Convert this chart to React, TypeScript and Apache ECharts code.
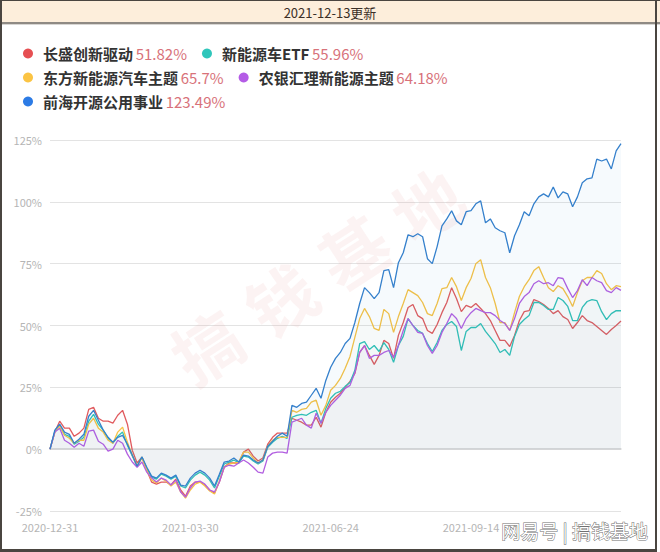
import React, { useEffect, useRef } from "react";
import * as echarts from "echarts";

const seriesNames = ["长盛创新驱动", "新能源车ETF", "东方新能源汽车主题", "农银汇理新能源主题", "前海开源公用事业"];
const seriesColors = ["#e05a5e", "#2cc2b8", "#f6c244", "#b25fe0", "#3580cc"];
const legendDots = ["#e64f52", "#2fc6bb", "#fbc444", "#b45ce6", "#2c7be5"];
const finalReturns = ["51.82%", "55.96%", "65.7%", "64.18%", "123.49%"];
const updateLabel = "2021-12-13更新";
const xTickLabels = ["2020-12-31", "2021-03-30", "2021-06-24", "2021-09-14", ""];
const tickEvery = 29;
const yTicks = { min: -25, max: 125, interval: 25 };

const changsheng = [0, 6.9, 11.3, 8.5, 8.5, 5.2, 6.5, 8.5, 16.1, 16.9, 12.5, 11.3, 11.3, 10.5, 13.7, 15.7, 10.1, -0.4, -5.6, -3.2, -8.5, -13.3, -14.1, -13.3, -13.3, -14.5, -12.1, -16.5, -19.0, -14.9, -13.3, -13.3, -14.5, -16.5, -17.7, -13.3, -7.3, -5.6, -5.6, -5.6, -1.2, 0, -2.8, -4.8, -3.6, 2.0, 4.8, 6.5, 6.5, 6.5, 12.5, 11.7, 10.9, 9.7, 9.7, 12.9, 8.9, 14.9, 19.0, 21.0, 22.6, 25.0, 27.4, 30.6, 39.1, 41.9, 37.9, 34.3, 37.9, 44.0, 42.7, 36.7, 46.0, 51.2, 57.3, 58.5, 54.0, 52.8, 48.0, 46.8, 50.4, 55.2, 59.3, 65.3, 60.9, 55.6, 58.1, 57.3, 58.9, 56.9, 54.8, 52.0, 48.0, 44.0, 44.0, 41.5, 46.0, 52.0, 55.6, 56.0, 60.5, 59.7, 58.5, 56.9, 54.8, 56.0, 53.6, 52.4, 48.8, 51.2, 54.0, 52.0, 51.2, 49.6, 48.0, 46.4, 48.4, 50.0, 51.82];
const nevEtf = [0, 7.3, 9.7, 6.0, 5.2, 2.0, 3.2, 4.8, 11.3, 14.1, 10.1, 7.7, 4.4, 2.4, 5.2, 6.9, 1.6, -2.8, -6.9, -3.2, -7.7, -11.3, -12.1, -10.1, -10.9, -12.1, -10.9, -14.9, -15.7, -12.5, -10.5, -9.3, -10.5, -12.5, -15.7, -10.9, -6.0, -5.2, -4.4, -5.6, -2.8, -3.2, -4.8, -6.0, -4.8, 0.8, 2.8, 4.4, 5.2, 4.4, 12.9, 13.7, 14.1, 13.7, 14.9, 15.7, 10.5, 16.5, 20.6, 22.6, 23.4, 25.4, 27.0, 31.9, 42.7, 43.5, 40.3, 41.9, 39.5, 43.1, 40.3, 35.1, 41.9, 45.6, 52.8, 50.0, 48.0, 46.8, 42.7, 39.5, 43.1, 48.0, 50.4, 51.6, 49.6, 39.9, 47.6, 49.2, 49.2, 50.8, 47.6, 45.2, 42.7, 39.1, 40.3, 37.9, 45.6, 50.4, 52.4, 54.0, 59.3, 59.3, 58.1, 56.5, 56.5, 61.3, 60.1, 57.7, 52.0, 52.0, 57.3, 59.7, 60.5, 60.1, 55.6, 52.4, 54.8, 56.0, 55.96];
const dongfang = [0, 6.9, 9.3, 5.6, 4.4, 2.4, 3.6, 3.6, 10.1, 12.5, 8.5, 6.9, 3.6, 2.4, 6.9, 8.9, 2.8, -2.4, -6.9, -3.6, -8.5, -12.5, -13.7, -11.7, -12.9, -14.9, -13.3, -17.3, -19.8, -16.5, -14.1, -13.3, -14.9, -16.9, -18.1, -12.9, -7.3, -6.0, -5.6, -5.2, -1.2, -1.2, -3.6, -5.6, -4.4, 1.2, 3.6, 4.8, 4.8, 4.8, 15.7, 14.9, 16.1, 16.5, 19.0, 19.8, 13.7, 17.7, 23.8, 25.8, 28.6, 32.7, 37.5, 45.2, 52.8, 56.9, 53.6, 48.8, 48.0, 56.5, 54.8, 47.2, 53.6, 58.9, 64.5, 63.3, 62.1, 59.3, 54.8, 54.0, 58.9, 64.9, 65.3, 69.4, 65.7, 60.1, 65.3, 69.0, 75.0, 76.6, 69.4, 65.3, 58.9, 51.2, 51.2, 48.0, 55.2, 61.7, 65.7, 68.5, 72.2, 73.8, 69.4, 65.3, 63.7, 66.1, 64.9, 61.7, 57.7, 63.3, 68.1, 69.4, 69.4, 72.2, 71.0, 66.9, 64.5, 66.1, 65.7];
const nongyin = [0, 6.9, 8.5, 3.6, 2.4, 0.8, 2.4, 1.2, 7.3, 7.7, 3.2, 2.0, -0.8, 0, 3.6, 2.4, -2.0, -5.2, -7.3, -5.2, -9.3, -11.7, -13.3, -11.7, -12.5, -14.5, -12.5, -17.3, -19.4, -15.7, -13.3, -12.9, -14.1, -16.5, -17.3, -13.3, -7.3, -6.5, -6.9, -5.6, -4.4, -5.6, -7.3, -9.3, -9.7, -3.2, -1.6, -1.2, -1.2, -1.6, 10.9, 11.7, 12.5, 9.7, 8.5, 14.5, 10.5, 14.9, 17.7, 19.8, 21.8, 24.6, 25.8, 31.0, 39.1, 41.9, 36.7, 37.9, 37.9, 39.1, 39.9, 37.1, 41.9, 48.0, 52.8, 50.0, 47.2, 46.8, 41.9, 38.7, 41.9, 47.2, 50.8, 54.8, 52.8, 48.8, 52.8, 55.2, 56.9, 56.0, 55.2, 55.2, 54.0, 52.0, 50.8, 48.0, 52.8, 58.9, 61.7, 63.3, 66.9, 68.1, 66.9, 67.3, 66.1, 69.4, 69.0, 64.9, 61.3, 64.1, 68.5, 66.1, 69.4, 68.1, 67.3, 64.1, 63.3, 65.3, 64.18];
const qianhai = [0, 7.7, 10.1, 6.9, 6.0, 2.4, 4.0, 6.0, 13.3, 15.7, 11.7, 7.7, 4.8, 2.8, 4.8, 5.6, 2.0, -2.4, -6.9, -3.2, -7.3, -10.9, -11.7, -9.7, -10.5, -11.7, -10.5, -14.5, -14.9, -11.7, -9.7, -8.5, -9.7, -11.7, -14.9, -10.1, -5.2, -4.8, -3.6, -5.2, -2.4, -2.8, -4.4, -5.6, -4.4, 1.2, 3.2, 5.2, 6.5, 5.2, 17.7, 16.9, 18.5, 19.0, 21.8, 24.6, 20.6, 27.8, 33.1, 36.7, 39.1, 42.7, 44.8, 51.2, 58.9, 65.3, 63.3, 60.9, 63.3, 72.2, 72.6, 65.3, 75.4, 79.4, 86.7, 85.9, 87.1, 85.9, 77.0, 75.0, 81.9, 90.3, 93.1, 96.4, 92.3, 90.7, 96.0, 96.4, 99.2, 100.4, 91.5, 93.1, 89.5, 88.3, 87.5, 79.4, 86.3, 90.7, 96.0, 94.4, 99.2, 102.0, 103.2, 102.0, 106.0, 101.6, 104.0, 103.2, 98.0, 102.0, 107.7, 109.3, 109.7, 117.3, 116.5, 117.3, 113.3, 120.6, 123.49];

const seriesData = [changsheng, nevEtf, dongfang, nongyin, qianhai];
const categories = qianhai.map((_, i) => String(i));

export default function App() {
  const ref = useRef<HTMLDivElement>(null);
  useEffect(() => {
    if (!ref.current) return;
    const chart = echarts.init(ref.current, null, { renderer: "svg" });
    const font = "'Noto Sans CJK SC', 'Noto Sans', sans-serif";
    const valueOf: Record<string, string> = {};
    seriesNames.forEach((n, i) => (valueOf[n] = finalReturns[i]));
    const legendBase = {
      left: 18,
      orient: "horizontal" as const,
      icon: "circle",
      itemWidth: 20,
      itemHeight: 10,
      itemGap: 15,
      formatter: (name: string) => `{n|${name}} {v|${valueOf[name]}}`,
      textStyle: {
        fontFamily: font,
        rich: {
          n: { fontSize: 15, fontWeight: "bold", color: "#333333", fontFamily: font, lineHeight: 20 },
          v: { fontSize: 15, color: "#d8727a", fontFamily: font, lineHeight: 20 },
        },
      },
    };
    const rows = [[0, 1], [2, 3], [4]];
    const rowTops = [41, 65, 89];
    const legends = rows.map((r, k) => ({
      ...legendBase,
      top: rowTops[k],
      data: r.map((i) => ({ name: seriesNames[i], itemStyle: { color: legendDots[i] } })),
    }));
    const wmChars = ["搞", "钱", "基", "地"];
    const wmPos = [[206, 345], [280, 298], [353, 250], [426, 203]];
    chart.setOption({
      animation: false,
      backgroundColor: "#ffffff",
      textStyle: { fontFamily: font },
      legend: legends,
      grid: { left: 50, right: 39, top: 140, bottom: 41 },
      xAxis: {
        type: "category",
        boundaryGap: false,
        data: categories,
        axisTick: { show: false },
        axisLine: { lineStyle: { color: "#d6d6d6", width: 1.5 } },
        axisLabel: {
          interval: tickEvery - 1,
          color: "#b5b5b5",
          fontSize: 11,
          margin: 10,
          fontFamily: font,
          formatter: (_v: string, i: number) => xTickLabels[Math.round(i / tickEvery)] ?? "",
        },
      },
      yAxis: {
        type: "value",
        min: yTicks.min,
        max: yTicks.max,
        interval: yTicks.interval,
        axisLine: { show: false },
        axisTick: { show: false },
        axisLabel: { color: "#b5b5b5", fontSize: 11, margin: 8, fontFamily: font, formatter: "{value}%" },
        splitLine: { lineStyle: { color: "#e3e3e3", width: 1 } },
      },
      series: seriesNames.map((name, i) => ({
        name,
        type: "line",
        data: seriesData[i],
        symbol: "none",
        lineStyle: { color: seriesColors[i], width: 1.3 },
        itemStyle: { color: legendDots[i] },
        areaStyle: { color: seriesColors[i], opacity: i === 4 ? 0.045 : 0.018 },
        z: 2 + i,
      })),
      graphic: [
        ...wmChars.map((c, k) => ({
          type: "text",
          x: wmPos[k][0],
          y: wmPos[k][1],
          rotation: (33 * Math.PI) / 180,
          z: 1,
          silent: true,
          style: {
            text: c,
            fontSize: 68,
            fontWeight: "bold",
            fontFamily: font,
            fill: "rgba(228,160,160,0.13)",
            align: "center",
            verticalAlign: "middle",
          },
        })),
        { type: "rect", z: 10, shape: { x: 0, y: 0, width: 660, height: 22 }, style: { fill: "#fdeedb" } },
        { type: "rect", z: 10, shape: { x: 0, y: 22, width: 660, height: 2 }, style: { fill: "#8f8a84" } },
        { type: "rect", z: 10, shape: { x: 0, y: 24, width: 660, height: 1 }, style: { fill: "#d8d6d3" } },
        {
          type: "text",
          z: 11,
          x: 330,
          y: 12,
          style: { text: updateLabel, fontSize: 13, fontFamily: font, fill: "#3b2f27", align: "center", verticalAlign: "middle" },
        },
        { type: "rect", z: 12, shape: { x: 0, y: 0, width: 660, height: 1 }, style: { fill: "#4a4540" } },
        { type: "rect", z: 12, shape: { x: 0, y: 0, width: 2, height: 552 }, style: { fill: "#4a4540" } },
        { type: "rect", z: 12, shape: { x: 655, y: 0, width: 2, height: 552 }, style: { fill: "#4a4540" } },
        { type: "rect", z: 12, shape: { x: 0, y: 549, width: 657, height: 3 }, style: { fill: "#4a4540" } },
        {
          type: "text",
          z: 13,
          x: 648,
          y: 530,
          style: {
            text: "网易号 | 搞钱基地",
            fontSize: 19,
            fontFamily: font,
            fill: "#ffffff",
            stroke: "#707070",
            lineWidth: 1,
            align: "right",
            verticalAlign: "middle",
          },
        },
      ],
    });
    return () => chart.dispose();
  }, []);
  return <div ref={ref} style={{ position: "fixed", left: 0, top: 0, width: 660, height: 552 }} />;
}
